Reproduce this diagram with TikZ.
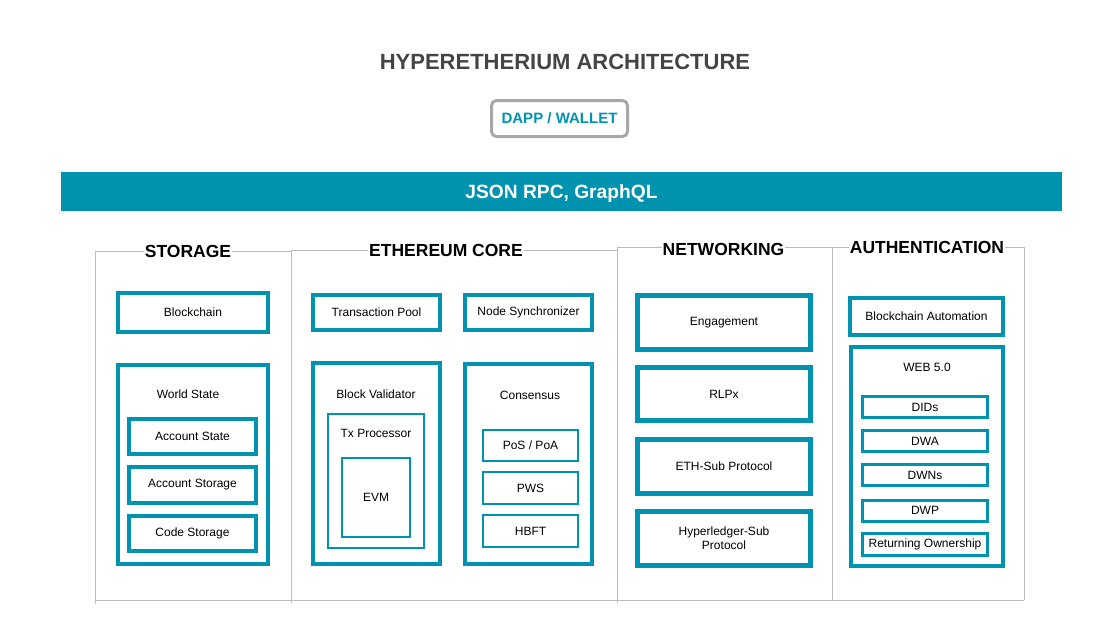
\documentclass[tikz,border=0pt]{standalone}
\usepackage{fontspec}
\setmainfont{Liberation Sans}
\begin{document}
\begin{tikzpicture}[x=1pt,y=-1pt,
  frame/.style={draw=colorframe, line width=1pt},
  heading/.style={fill=white, inner xsep=1pt, inner ysep=0pt, font=\fontsize{17.5}{20}\selectfont\bfseries},
  tealbox/.style={draw=colorteal, line width=#1, inner sep=0pt, align=center, font=\fontsize{12}{14}\selectfont},
  tealbox/.default=4pt,
  lbl/.style={inner sep=0pt, font=\fontsize{12}{14}\selectfont}]
\definecolor{colorteal}{HTML}{0093B0}
\definecolor{colorframe}{HTML}{BDBDBD}
\definecolor{colorgray}{HTML}{A8A8A8}
\definecolor{colortitle}{HTML}{444444}
\useasboundingbox (0,0) rectangle (1120,630);
% title, wallet, rpc bar
\node[font=\fontsize{22}{25}\selectfont\bfseries, text=colortitle] (title) at (565,62) {HYPERETHERIUM ARCHITECTURE};
\node[draw=colorgray, line width=3pt, rounded corners=5pt, minimum width=136pt, minimum height=36pt, text=colorteal, font=\fontsize{15}{18}\selectfont\bfseries] (dapp) at (559.5,118.5) {DAPP / WALLET};
\node[fill=colorteal, minimum width=1001pt, minimum height=39pt, text depth=0pt, text=white, font=\fontsize{19.2}{22}\selectfont\bfseries] (rpc) at (561.5,191.5) {JSON RPC, GraphQL};
% column frames
\draw[frame] (95,604) -- (95,251) -- (291,251);
\draw[frame] (291,603) -- (291,250) -- (617,250);
\draw[frame] (617,603) -- (617,247) -- (1024,247) -- (1024,600);
\draw[frame] (832,600) -- (832,247);
\draw[frame] (95,600) -- (1024,600);
\node[heading] (storage) at (188,251) {STORAGE};
\node[heading] (core) at (446,250) {ETHEREUM CORE};
\node[heading] (net) at (723.5,249) {NETWORKING};
\node[heading] (auth) at (927,247) {AUTHENTICATION};
% storage
\node[tealbox, minimum width=150pt, minimum height=39pt] (blockchain) at (193,312.5) {Blockchain};
\node[tealbox, minimum width=150pt, minimum height=199pt] (world) at (193,464.5) {};
\node[lbl] (worldlbl) at (188,394) {World State};
\node[tealbox=3.5pt, minimum width=127pt, minimum height=35pt] (accstate) at (192.5,436.5) {Account State};
\node[tealbox=3.5pt, minimum width=127pt, minimum height=36pt] (accstore) at (192.5,485) {Account Storage};
\node[tealbox=3.5pt, minimum width=127pt, minimum height=35pt] (codestore) at (192.5,533.5) {Code Storage};
% ethereum core
\node[tealbox, minimum width=127pt, minimum height=35pt] (txpool) at (376.5,312.5) {Transaction Pool};
\node[tealbox, minimum width=127pt, minimum height=35pt] (nodesync) at (528.5,312.5) {Node Synchronizer};
\node[tealbox, minimum width=127pt, minimum height=201pt] (validator) at (376.5,463.5) {};
\node[lbl] (validatorlbl) at (376,394) {Block Validator};
\node[tealbox=2pt, minimum width=96pt, minimum height=134pt] (txproc) at (376,481) {};
\node[lbl] (txproclbl) at (376,433) {Tx Processor};
\node[tealbox=1.5pt, minimum width=68pt, minimum height=79pt] (evm) at (376,497.5) {EVM};
\node[tealbox, minimum width=127pt, minimum height=200pt] (consensus) at (528.5,464) {};
\node[lbl] (consensuslbl) at (530,395) {Consensus};
\node[tealbox=2.5pt, minimum width=95pt, minimum height=31pt] (pos) at (530.5,445.5) {PoS / PoA};
\node[tealbox=2.5pt, minimum width=95pt, minimum height=32pt] (pws) at (530.5,488) {PWS};
\node[tealbox=2.5pt, minimum width=95pt, minimum height=32pt] (hbft) at (530.5,531) {HBFT};
% networking
\node[tealbox=5pt, minimum width=173pt, minimum height=54pt] (engage) at (724,322.5) {Engagement};
\node[tealbox=5pt, minimum width=173pt, minimum height=53pt] (rlpx) at (724,394) {RLPx};
\node[tealbox=5pt, minimum width=173pt, minimum height=54pt] (ethsub) at (724,466.5) {ETH-Sub Protocol};
\node[tealbox=5pt, minimum width=173pt, minimum height=54pt] (hypersub) at (724,538.5) {Hyperledger-Sub\\Protocol};
% authentication
\node[tealbox=3.5pt, minimum width=153pt, minimum height=37pt] (automation) at (926.5,316.5) {Blockchain Automation};
\node[tealbox=3.5pt, minimum width=152pt, minimum height=219pt] (web) at (927,456.5) {};
\node[lbl] (weblbl) at (927,367) {WEB 5.0};
\node[tealbox=3pt, minimum width=125pt, minimum height=21pt] (dids) at (925,407) {DIDs};
\node[tealbox=3pt, minimum width=125pt, minimum height=21pt] (dwa) at (925,441) {DWA};
\node[tealbox=3pt, minimum width=125pt, minimum height=21pt] (dwns) at (925,475) {DWNs};
\node[tealbox=3pt, minimum width=125pt, minimum height=21pt] (dwp) at (925,510.5) {DWP};
\node[tealbox=3pt, minimum width=125pt, minimum height=22pt] (owner) at (925,544.5) {Returning Ownership};
\end{tikzpicture}
\end{document}
